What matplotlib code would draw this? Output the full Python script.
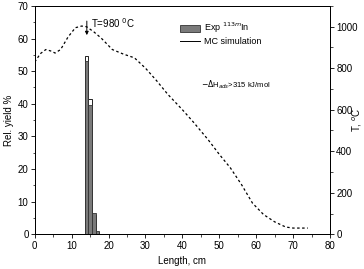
import matplotlib
matplotlib.use("Agg")
import matplotlib.pyplot as plt
from matplotlib.ticker import MultipleLocator

plt.rcParams['font.family'] = ['Liberation Sans', 'DejaVu Sans']

# Bars (length in cm, relative yield %)
bar_pos = [14, 15, 16, 17]
exp_yield = [53.0, 39.5, 6.5, 1.0]
mc_yield = [54.5, 41.5, 6.0, 0.8]

# Temperature profile
t_len = [0, 1.5, 3, 4.5, 5.5, 7, 9, 11, 12.7, 14, 16, 18, 21, 24, 27, 30, 33, 36,
         40, 43, 47, 50, 53, 56, 59, 62, 65, 68, 70, 74]
t_val = [830, 870, 890, 882, 873, 890, 950, 995, 1003, 1000, 975, 945, 890, 868, 850,
         800, 740, 675, 600, 540, 455, 385, 320, 240, 150, 95, 60, 35, 30, 30]

fig = plt.figure(figsize=(3.64, 2.69), dpi=100)
ax = fig.add_axes([0.0956, 0.129, 0.811, 0.849])
ax2 = ax.twinx()

ax.bar(bar_pos, mc_yield, width=1.0, color='white', edgecolor='black', linewidth=0.6, zorder=2)
h_exp = ax.bar(bar_pos, exp_yield, width=1.0, color='#7a7a7a', edgecolor='#333333', linewidth=0.6,
               zorder=3)
h_mc, = ax.plot([], [], color='black', linewidth=0.7)

ax2.plot(t_len, t_val, color='black', linestyle=(0, (2, 2)), linewidth=0.9)

ax.set_xlim(0, 80)
ax.set_ylim(0, 70)
ax2.set_ylim(0, 1100)

ax.xaxis.set_major_locator(MultipleLocator(10))
ax.xaxis.set_minor_locator(MultipleLocator(5))
ax.yaxis.set_major_locator(MultipleLocator(10))
ax.yaxis.set_minor_locator(MultipleLocator(5))
ax2.yaxis.set_major_locator(MultipleLocator(200))
ax2.yaxis.set_minor_locator(MultipleLocator(100))

for a in (ax, ax2):
    a.tick_params(which='major', direction='out', length=3, width=0.6, labelsize=7, pad=1.5)
    a.tick_params(which='minor', direction='out', length=1.8, width=0.5)
    for s in a.spines.values():
        s.set_linewidth(0.7)

ax.set_xlabel('Length, cm', fontsize=7, labelpad=4)
ax.set_ylabel('Rel. yield %', fontsize=7, labelpad=3)
ax2.set_ylabel('T, $^{o}$C', fontsize=7)
ax2.yaxis.set_label_coords(1.07, 0.5)

ax.annotate('', xy=(14.1, 60.2), xytext=(14.1, 66.2),
            arrowprops=dict(arrowstyle='-|>', color='black', lw=0.7, mutation_scale=5))
ax.text(15.3, 64.8, 'T=980 $^{0}$C', fontsize=7, va='center', ha='left')
ax.text(45.0, 45.7, r'$-\Delta$H$_{ads}$>315 kJ/mol', fontsize=5.5, va='center', ha='left')

ax.legend([h_exp, h_mc], ['Exp $^{113m}$In', 'MC simulation'],
          loc='upper left', bbox_to_anchor=(0.48, 0.95), fontsize=6.5, frameon=False,
          handlelength=2.2, handleheight=0.8, labelspacing=0.2, borderaxespad=0, handletextpad=0.5)

fig.savefig('out.png', dpi=100)
